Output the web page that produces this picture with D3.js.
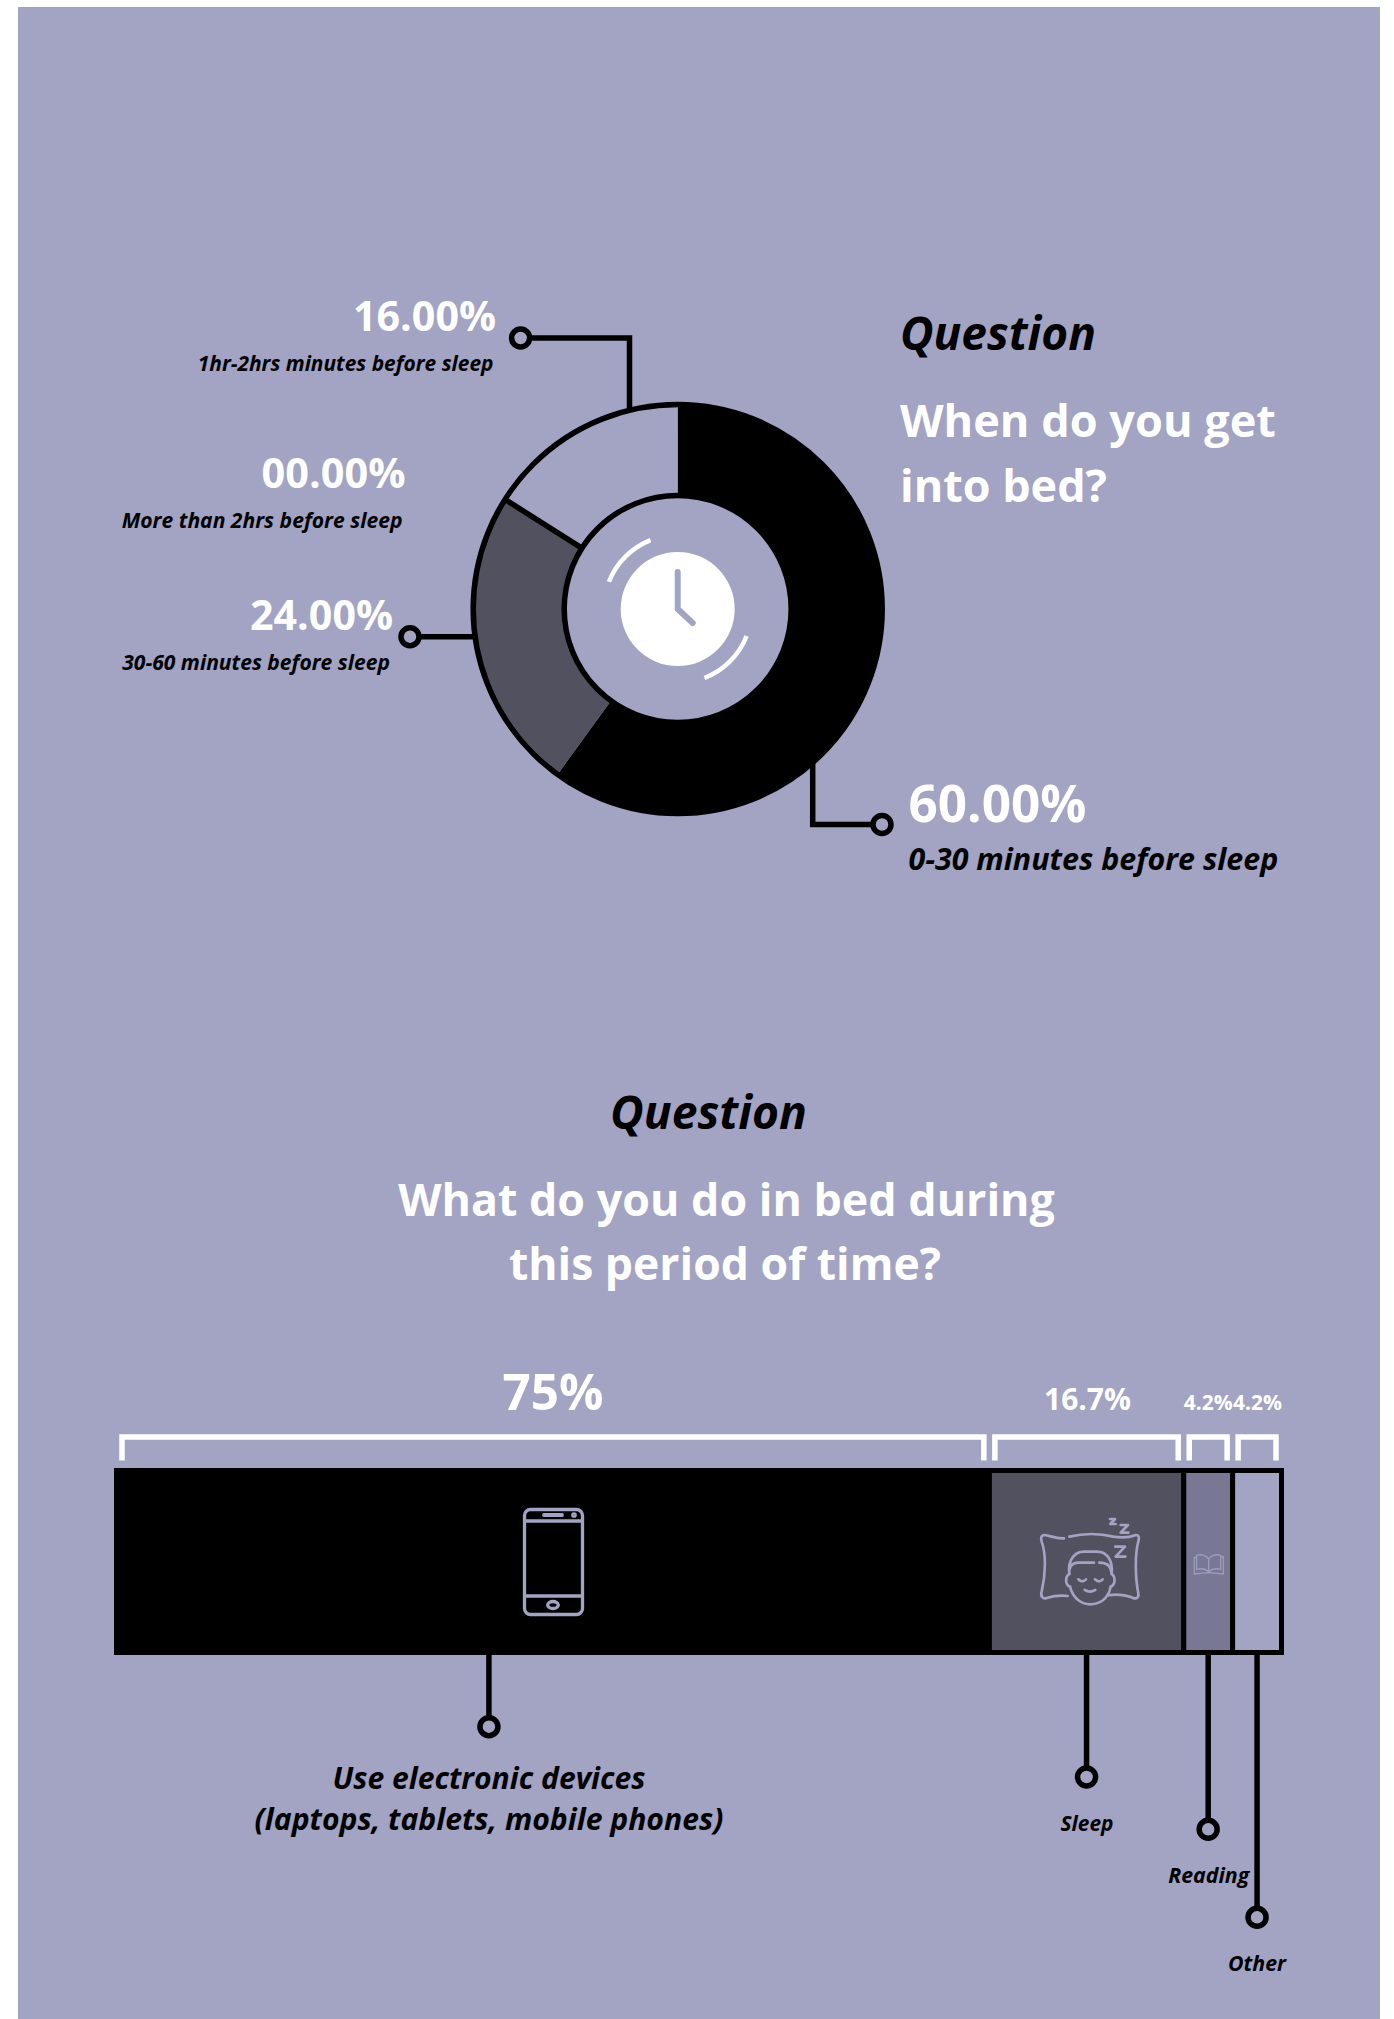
<!DOCTYPE html>
<html>
<head>
<meta charset="utf-8">
<script src="https://cdn.jsdelivr.net/npm/d3@7"></script>
<style>
html,body{margin:0;padding:0;background:#fff}
svg{display:block}
text{font-family:"Open Sans",Lato,sans-serif;font-weight:700}
</style>
</head>
<body>
<svg id="chart" width="1394" height="2019"></svg>
<script>
// Bedtime timing survey
const timingCategories = ["0-30 minutes before sleep", "30-60 minutes before sleep", "More than 2hrs before sleep", "1hr-2hrs minutes before sleep"];
const timingValues = [60, 24, 0, 16];
const timingLabels = ["60.00%", "24.00%", "00.00%", "16.00%"];

// In-bed activity survey
const activityCategories = ["Use electronic devices", "Sleep", "Reading", "Other"];
const activityValues = [75, 16.7, 4.2, 4.2];
const activityLabels = ["75%", "16.7%", "4.2%", "4.2%"];

const BG = "#a3a3c3", DARK = "#52515f", MID = "#787892", INK = "#000", WHITE = "#fff";
const svg = d3.select("#chart");
svg.append("rect").attr("x", 18).attr("y", 7).attr("width", 1362).attr("height", 2012).attr("fill", BG);

// Places a text line and scales its font so the line runs to the given width
function label(x, y, str, width, opt = {}) {
  const t = svg.append("text").attr("x", x).attr("y", y).text(str)
    .attr("font-size", 40)
    .attr("fill", opt.fill || INK)
    .attr("font-style", opt.italic ? "italic" : "normal")
    .attr("text-anchor", opt.anchor || "start");
  t.attr("font-size", 40 * width / t.node().getComputedTextLength());
  return t;
}
function leader(points) {
  svg.append("path").attr("d", d3.line()(points)).attr("fill", "none").attr("stroke", INK).attr("stroke-width", 5.5);
  const end = points[0];
  svg.append("circle").attr("cx", end[0]).attr("cy", end[1]).attr("r", 9)
    .attr("fill", BG).attr("stroke", INK).attr("stroke-width", 5.5);
}

/* ---------- donut ---------- */
const cx = 677.7, cy = 609, rOuter = 204.5, rInner = 113.5;
const pie = d3.pie().sort(null).value(d => d)(timingValues);
const sliceFill = [INK, DARK, BG, BG];
const arc = d3.arc().innerRadius(rInner).outerRadius(rOuter);

leader([[520.6, 338], [629.5, 338], [629.5, 410]]);
leader([[410, 636.7], [475, 636.7]]);
leader([[882, 824.5], [812.7, 824.5], [812.7, 760]]);

const ring = svg.append("g").attr("transform", `translate(${cx},${cy})`);
ring.selectAll("path.slice").data(pie).join("path").attr("class", "slice")
  .attr("d", arc).attr("fill", (d, i) => sliceFill[i]);
ring.selectAll("circle.edge").data([rInner, rOuter]).join("circle").attr("class", "edge")
  .attr("r", d => d).attr("fill", "none").attr("stroke", INK).attr("stroke-width", 5.5);
// Only the last populated slice is divided from its neighbour by a heavy rule
const divider = pie[1].endAngle;
ring.append("path")
  .attr("d", d3.line()([d3.pointRadial(divider, rInner), d3.pointRadial(divider, rOuter)]))
  .attr("stroke", INK).attr("stroke-width", 5.5);

// Clock in the hole
const clock = ring.append("g");
clock.append("circle").attr("r", 57).attr("fill", WHITE);
clock.append("path").attr("d", "M0,-37V0L15,14").attr("fill", "none").attr("stroke", BG)
  .attr("stroke-width", 6).attr("stroke-linecap", "round").attr("stroke-linejoin", "round");
const sweep = d3.arc().innerRadius(74).outerRadius(74);
[[-68.4, -21.5], [111.4, 158.8]].forEach(([a, b]) => {
  clock.append("path")
    .attr("d", sweep({startAngle: a * Math.PI / 180, endAngle: b * Math.PI / 180}))
    .attr("fill", "none").attr("stroke", WHITE).attr("stroke-width", 4.5).attr("stroke-linecap", "round");
});

/* ---------- donut text ---------- */
label(900, 350, "Question", 196, {italic: true});
label(900, 436.7, "When do you get", 376, {fill: WHITE});
label(900, 501.7, "into bed?", 207, {fill: WHITE});

label(496, 331, timingLabels[3], 143, {fill: WHITE, anchor: "end"});
label(493.5, 371, timingCategories[3], 296, {italic: true, anchor: "end"});
label(405.5, 488, timingLabels[2], 144, {fill: WHITE, anchor: "end"});
label(402.5, 528.3, timingCategories[2], 281, {italic: true, anchor: "end"});
label(393, 630, timingLabels[1], 143, {fill: WHITE, anchor: "end"});
label(390, 670, timingCategories[1], 268, {italic: true, anchor: "end"});
label(908.5, 822, timingLabels[0], 178, {fill: WHITE});
label(908.5, 870.3, timingCategories[0], 370, {italic: true});

/* ---------- stacked bar ---------- */
const x = d3.scaleLinear().domain([0, d3.sum(activityValues)]).range([116.5, 1281.5]);
const barTop = 1470.5, barH = 182;
let acc = 0;
const segments = activityValues.map((v, i) => {
  const s = {x0: x(acc), x1: x(acc + v), i};
  acc += v;
  return s;
});
const segFill = [INK, DARK, MID, BG];

svg.selectAll("rect.seg").data(segments).join("rect").attr("class", "seg")
  .attr("x", d => d.x0).attr("y", barTop).attr("width", d => d.x1 - d.x0).attr("height", barH)
  .attr("fill", d => segFill[d.i]).attr("stroke", INK).attr("stroke-width", 5);

// White brackets spanning each segment
svg.selectAll("path.bracket").data(segments).join("path").attr("class", "bracket")
  .attr("d", d => d3.line()([[d.x0 + 5.5, 1460.5], [d.x0 + 5.5, 1437], [d.x1 - 5.5, 1437], [d.x1 - 5.5, 1460.5]]))
  .attr("fill", "none").attr("stroke", WHITE).attr("stroke-width", 5.5);

label(553, 1410, activityLabels[0], 101, {fill: WHITE, anchor: "middle"});
label(1087.5, 1410, activityLabels[1], 87, {fill: WHITE, anchor: "middle"});
label(1208.3, 1410, activityLabels[2], 49, {fill: WHITE, anchor: "middle"});
label(1257.5, 1410, activityLabels[3], 49, {fill: WHITE, anchor: "middle"});

/* ---------- bar leaders ---------- */
const barBottom = barTop + barH;
const midOf = s => (s.x0 + s.x1) / 2;
leader([[x(32), 1726.7], [x(32), barBottom]]);
leader([[midOf(segments[1]), 1777], [midOf(segments[1]), barBottom]]);
leader([[midOf(segments[2]), 1829.3], [midOf(segments[2]), barBottom]]);
leader([[midOf(segments[3]), 1917.3], [midOf(segments[3]), barBottom]]);

label(489, 1789.3, activityCategories[0], 313, {italic: true, anchor: "middle"});
label(489, 1830.3, "(laptops, tablets, mobile phones)", 469, {italic: true, anchor: "middle"});
label(1087, 1830.7, activityCategories[1], 53, {italic: true, anchor: "middle"});
label(1208.7, 1882.7, activityCategories[2], 81, {italic: true, anchor: "middle"});
label(1257, 1971, activityCategories[3], 58, {italic: true, anchor: "middle"});

label(708.5, 1129, "Question", 197, {italic: true, anchor: "middle"});
label(726.5, 1216, "What do you do in bed during", 657, {fill: WHITE, anchor: "middle"});
label(725, 1280, "this period of time?", 432, {fill: WHITE, anchor: "middle"});

/* ---------- pictograms on the bar ---------- */
const phone = svg.append("g").attr("fill", "none").attr("stroke", BG).attr("stroke-width", 3.3);
phone.append("rect").attr("x", 524.5).attr("y", 1509.5).attr("width", 58).attr("height", 105).attr("rx", 6);
phone.append("path").attr("d", "M524.5,1521H582.5M524.5,1596H582.5");
phone.append("path").attr("d", "M544,1515H562").attr("stroke-width", 3.8).attr("stroke-linecap", "round");
phone.append("circle").attr("cx", 574).attr("cy", 1515).attr("r", 1.2);
phone.append("ellipse").attr("cx", 553).attr("cy", 1605).attr("rx", 5.3).attr("ry", 3.5);

const sleeper = svg.append("g").attr("transform", "translate(950,1370) scale(0.3333)")
  .attr("fill", "none").attr("stroke", BG).attr("stroke-width", 8)
  .attr("stroke-linecap", "round").attr("stroke-linejoin", "round");
[
  "M342,505C320,507 300,497 285,495C272,495 272,505 275,515C288,550 288,610 275,665C270,680 280,688 290,684C310,678 335,676 353,678",
  "M358,500C400,490 450,490 490,500C520,505 545,500 558,495C568,495 568,505 565,515C555,550 555,620 565,670C568,685 555,688 545,682C530,676 500,672 472,676",
  "M358,612C352,570 375,545 402,545L440,545C470,545 490,570 485,612",
  "M360,650C370,690 400,703 420,703C445,703 475,690 482,650",
  "M358,612C345,620 345,645 360,650M485,612C497,620 497,645 482,650",
  "M358,600C362,582 372,578 385,578L432,578M448,578C470,578 482,585 484,605",
  "M385,628Q397,640 408,628M435,628Q447,640 458,628",
  "M404,660Q420,670 436,660",
  "M496,530H525L497,560H526",
  "M512,465H534L512,488H535",
  "M480,447H495L481,462H497"
].forEach(d => sleeper.append("path").attr("d", d));

const book = svg.append("g").attr("transform", "translate(950,1370) scale(0.3333)")
  .attr("fill", "none").attr("stroke", BG).attr("stroke-width", 4).attr("opacity", 0.85);
[
  "M776,567C765,553 750,553 740,556V598C752,595 765,595 776,605V567C787,553 802,553 812,556V598C800,595 787,595 776,605",
  "M740,562H733V612L776,608L820,612V560H812"
].forEach(d => book.append("path").attr("d", d));
</script>
</body>
</html>
